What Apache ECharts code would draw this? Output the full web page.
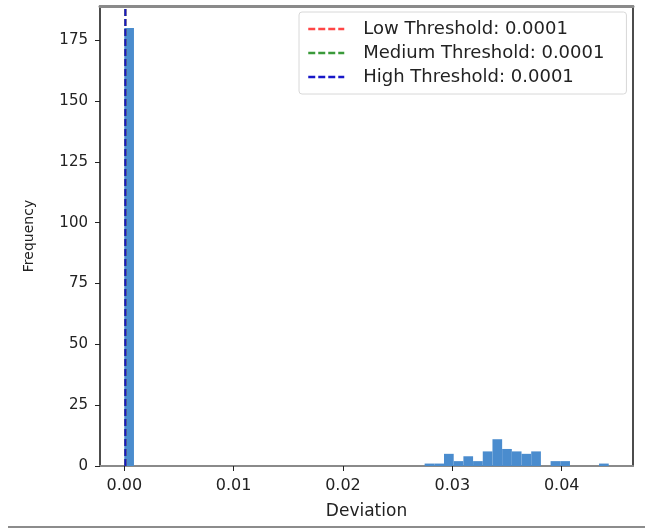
<!DOCTYPE html>
<html>
<head>
<meta charset="utf-8">
<title>deviation histogram</title>
<script src="https://cdn.jsdelivr.net/npm/echarts@6/dist/echarts.min.js"></script>
<style>
  html, body { margin: 0; padding: 0; background: #fff; }
  #chart { width: 645px; height: 530px; }
  #edge { position: absolute; left: 8px; top: 526px; width: 637px; height: 2px; background: #8c8c8c; }
</style>
</head>
<body>
<div id="chart"></div>
<div id="edge"></div>
<script>
  // histogram: 50 bins starting at 0
  var binStart = 0;
  var binWidth = 0.000886;
  var counts = [
    180, 0, 0, 0, 0, 0, 0, 0, 0, 0,
    0, 0, 0, 0, 0, 0, 0, 0, 0, 0,
    0, 0, 0, 0, 0, 0, 0, 0, 0, 0,
    0, 1, 1, 5, 2, 4, 2, 6, 11, 7,
    6, 5, 6, 0, 2, 2, 0, 0, 0, 1
  ];
  var thresholdNames = ['Low Threshold', 'Medium Threshold', 'High Threshold'];
  var thresholdValues = [0.0001, 0.0001, 0.0001];
  var thresholdColors = ['#ff4545', '#3a9a3a', '#1818c8'];
  var xTicks = [0, 0.01, 0.02, 0.03, 0.04];
  var yTicks = [0, 25, 50, 75, 100, 125, 150, 175];

  var xMin = -0.00222, xMax = 0.04652;
  var yMax = 189;

  var bins = [];
  counts.forEach(function (c, i) {
    if (c > 0) bins.push([binStart + i * binWidth, binStart + (i + 1) * binWidth, c]);
  });

  var font = 'DejaVu Sans';
  var series = [{
    type: 'custom',
    name: 'hist',
    data: bins,
    encode: { x: [0, 1], y: 2 },
    itemStyle: { color: '#4a8cce' },
    renderItem: function (params, api) {
      var p0 = api.coord([api.value(0), 0]);
      var p1 = api.coord([api.value(1), api.value(2)]);
      return {
        type: 'rect',
        shape: { x: p0[0], y: p1[1], width: p1[0] - p0[0], height: p0[1] - p1[1] },
        style: api.style()
      };
    },
    z: 2
  }];
  thresholdNames.forEach(function (n, i) {
    var t = thresholdValues[i];
    series.push({
      type: 'line',
      name: n + ': ' + t.toFixed(4),
      data: [[t, 0], [t, yMax]],
      symbol: 'none',
      color: thresholdColors[i],
      lineStyle: { color: thresholdColors[i], width: 2, type: [7, 3] },
      z: 3 + i
    });
  });

  var chart = echarts.init(document.getElementById('chart'));
  chart.setOption({
    animation: false,
    textStyle: { fontFamily: font },
    grid: { left: 100, right: 12, top: 6, bottom: 64 },
    legend: {
      orient: 'vertical',
      left: 299,
      top: 12,
      padding: [7, 22, 7, 8],
      itemWidth: 36,
      itemHeight: 14,
      itemGap: 4,
      borderColor: '#d8d8d8',
      borderWidth: 1,
      borderRadius: 3,
      itemStyle: { opacity: 0 },
      lineStyle: { width: 2.5 },
      data: series.slice(1).map(function (s) { return s.name; }),
      textStyle: { fontFamily: font, fontSize: 18, color: '#222', lineHeight: 20, padding: [0, 0, 0, 14] }
    },
    xAxis: [{
      type: 'value',
      min: xMin,
      max: xMax,
      name: 'Deviation',
      nameLocation: 'middle',
      nameGap: 37,
      nameTextStyle: { fontFamily: font, fontSize: 17, color: '#222' },
      splitLine: { show: false },
      axisLine: { onZero: false, lineStyle: { color: '#8a8a8a', width: 2 } },
      axisTick: { show: true, length: 5, lineStyle: { color: '#222' }, customValues: xTicks },
      axisLabel: {
        fontFamily: font, fontSize: 16, color: '#222', margin: 12,
        customValues: xTicks,
        formatter: function (v) { return v.toFixed(2); }
      }
    }, {
      type: 'value', position: 'top', min: xMin, max: xMax,
      axisLine: { show: true, onZero: false, lineStyle: { color: '#8a8a8a', width: 3 } },
      axisTick: { show: false }, axisLabel: { show: false }, splitLine: { show: false }
    }],
    yAxis: [{
      type: 'value',
      min: 0,
      max: yMax,
      name: 'Frequency',
      nameLocation: 'middle',
      nameRotate: 90,
      nameGap: 64,
      nameTextStyle: { fontFamily: font, fontSize: 14, color: '#222' },
      splitLine: { show: false },
      axisLine: { show: true, onZero: false, lineStyle: { color: '#111', width: 1.5 } },
      axisTick: { show: true, length: 5, lineStyle: { color: '#222' }, customValues: yTicks },
      axisLabel: { fontFamily: font, fontSize: 15, color: '#222', margin: 12, customValues: yTicks }
    }, {
      type: 'value', position: 'right', min: 0, max: yMax,
      axisLine: { show: true, onZero: false, lineStyle: { color: '#111', width: 1.5 } },
      axisTick: { show: false }, axisLabel: { show: false }, splitLine: { show: false }
    }],
    series: series
  });
</script>
</body>
</html>
